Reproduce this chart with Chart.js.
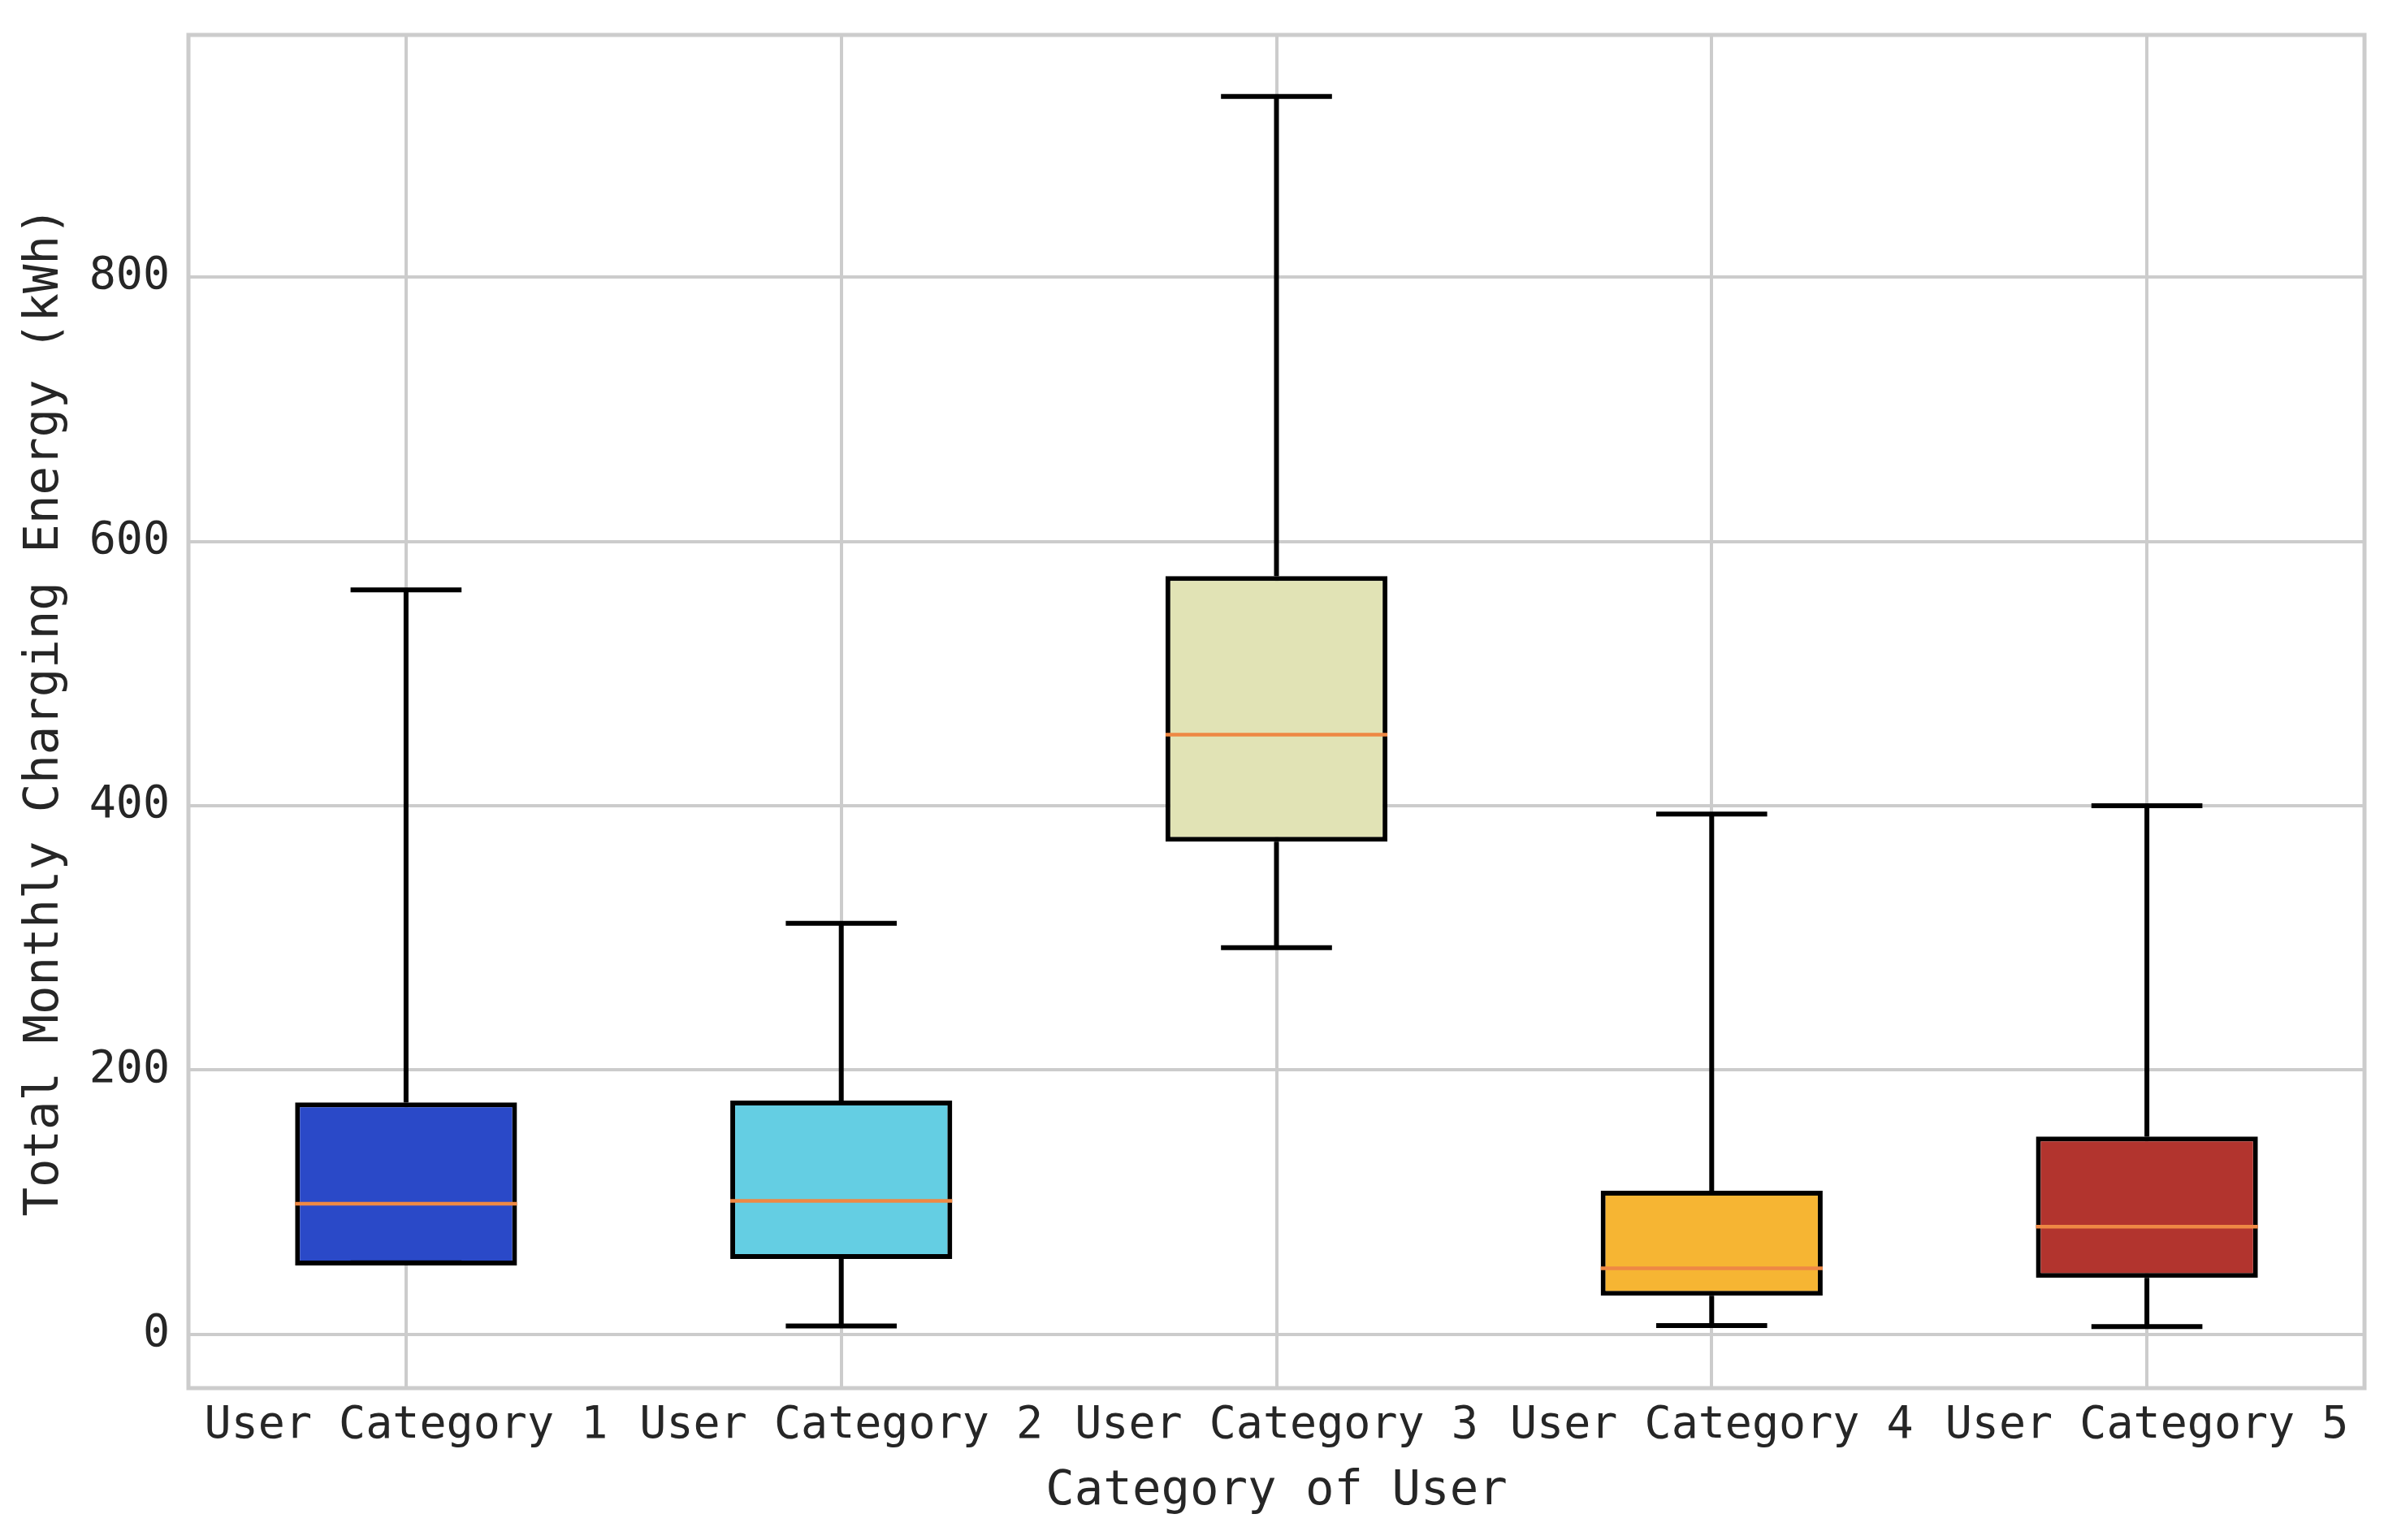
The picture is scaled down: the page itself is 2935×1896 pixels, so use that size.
<!DOCTYPE html>
<html>
<head>
<meta charset="utf-8">
<script src="https://cdn.jsdelivr.net/npm/chart.js"></script>
<style>
  html, body { margin: 0; padding: 0; background: #fff; }
</style>
</head>
<body>
<canvas id="boxchart" width="2935" height="1896"></canvas>
<script>
const categories = ['User Category 1', 'User Category 2', 'User Category 3', 'User Category 4', 'User Category 5'];
const whiskerLow = [54, 6.3, 292.5, 6.6, 5.8];
const q1 = [52, 57.0, 372.7, 29.2, 42.7];
const median = [98.8, 100.9, 453.8, 49.9, 81.4];
const q3 = [175.5, 176.8, 573.8, 108.6, 149.6];
const whiskerHigh = [563.3, 311.0, 936.7, 393.7, 400.0];
const yTicks = [0, 200, 400, 600, 800];
const boxColors = ['#2a49c8', '#64cee3', '#e1e3b5', '#f6b533', '#b2342e'];
const medianColor = '#ee8844';

const FONT = '"DejaVu Sans Mono", "Liberation Mono", monospace';
const TEXT = '#262626';
const GRID = '#cccccc';

// matplotlib style 5% margin on the value axis
const dataMin = Math.min(...whiskerLow);
const dataMax = Math.max(...whiskerHigh);
const margin = (dataMax - dataMin) * 0.05;

const framePlugin = {
  id: 'frame',
  beforeDatasetsDraw(chart) {
    const { left, right, top, bottom } = chart.chartArea;
    const c = chart.ctx;
    c.save();
    c.strokeStyle = GRID;
    c.lineWidth = 5;
    c.strokeRect(left, top, right - left, bottom - top);
    c.restore();
  }
};

const whiskerPlugin = {
  id: 'whiskers',
  afterDatasetsDraw(chart) {
    const y = chart.scales.y;
    const meta = chart.getDatasetMeta(0);
    const c = chart.ctx;
    c.save();
    c.lineCap = 'butt';
    categories.forEach((_, i) => {
      const bar = meta.data[i];
      const cx = bar.x;
      const half = bar.width / 2;
      const capHalf = bar.width / 4;

      // whiskers
      c.strokeStyle = '#000';
      c.lineWidth = 6;
      c.beginPath();
      c.moveTo(cx, y.getPixelForValue(q3[i]));
      c.lineTo(cx, y.getPixelForValue(whiskerHigh[i]));
      c.moveTo(cx, y.getPixelForValue(q1[i]));
      c.lineTo(cx, y.getPixelForValue(whiskerLow[i]));
      c.stroke();

      // caps
      c.beginPath();
      const yHi = y.getPixelForValue(whiskerHigh[i]);
      const yLo = y.getPixelForValue(whiskerLow[i]);
      c.moveTo(cx - capHalf, yHi);
      c.lineTo(cx + capHalf, yHi);
      c.moveTo(cx - capHalf, yLo);
      c.lineTo(cx + capHalf, yLo);
      c.stroke();

      // median
      const yMed = y.getPixelForValue(median[i]);
      c.strokeStyle = medianColor;
      c.lineWidth = 4.5;
      c.beginPath();
      c.moveTo(cx - half, yMed);
      c.lineTo(cx + half, yMed);
      c.stroke();
    });
    c.restore();
  }
};

const ctx = document.getElementById('boxchart');
const chart = new Chart(ctx, {
  type: 'bar',
  data: {
    labels: categories,
    datasets: [{
      data: categories.map((_, i) => [q1[i], q3[i]]),
      backgroundColor: boxColors,
      borderColor: '#000',
      borderWidth: 6,
      borderSkipped: false,
      categoryPercentage: 1.0,
      barPercentage: 0.51,
    }],
  },
  options: {
    responsive: false,
    animation: false,
    layout: {
      padding: { top: 43, right: 24, left: 0, bottom: 0 },
    },
    plugins: {
      legend: { display: false },
      tooltip: { enabled: false },
    },
    scales: {
      x: {
        offset: true,
        grid: {
          offset: false,
          color: GRID,
          lineWidth: 4,
          drawTicks: false,
        },
        border: { display: false },
        ticks: {
          color: TEXT,
          font: { family: FONT, size: 55 },
          padding: 14,
          autoSkip: false,
          maxRotation: 0,
          minRotation: 0,
        },
        title: {
          display: true,
          text: 'Category of User',
          color: TEXT,
          font: { family: FONT, size: 59 },
          padding: { top: 0, bottom: 24 },
        },
        afterFit: (axis) => {
          axis.height = 187;
          axis.paddingLeft = 0;
          axis.paddingRight = 0;
        },
      },
      y: {
        min: dataMin - margin,
        max: dataMax + margin,
        grid: {
          color: GRID,
          lineWidth: 4,
          drawTicks: false,
        },
        border: { display: false },
        ticks: {
          color: TEXT,
          font: { family: FONT, size: 55 },
          padding: 23,
        },
        afterBuildTicks: (axis) => {
          axis.ticks = yTicks.map(v => ({ value: v }));
        },
        title: {
          display: true,
          text: 'Total Monthly Charging Energy (kWh)',
          color: TEXT,
          font: { family: FONT, size: 59 },
          padding: { top: 20, bottom: 0 },
        },
        afterFit: (axis) => {
          axis.width = 232;
          axis.paddingTop = 0;
          axis.paddingBottom = 0;
        },
      },
    },
  },
  plugins: [framePlugin, whiskerPlugin],
});
</script>
</body>
</html>
